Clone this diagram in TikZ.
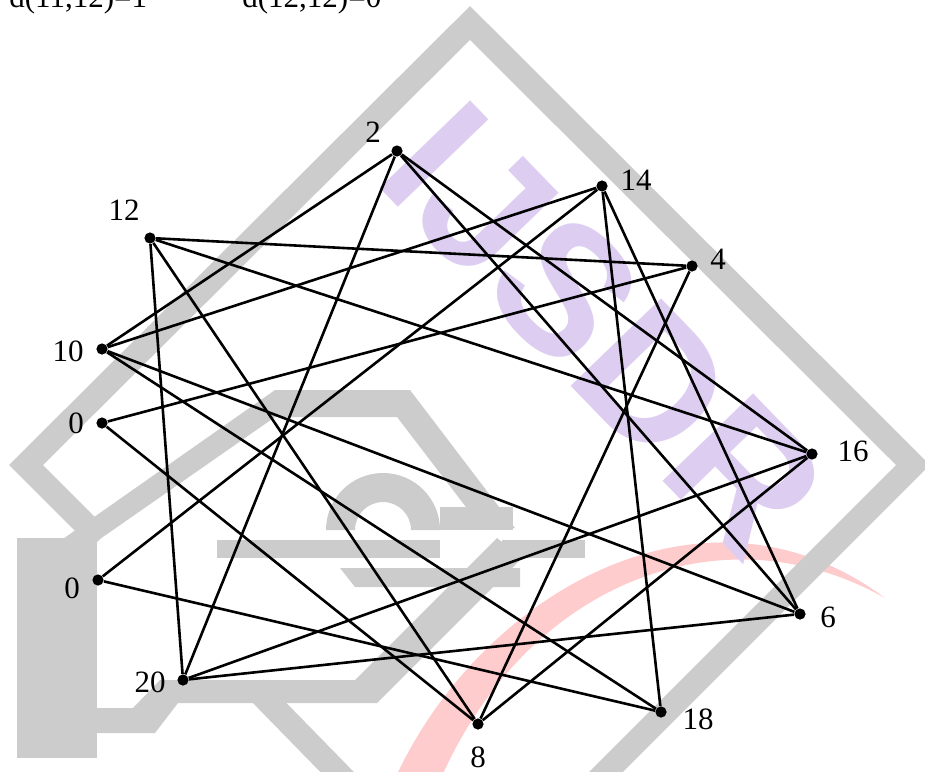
\documentclass[tikz,border=0pt]{standalone}
\usepackage{fontspec}
\setmainfont{Liberation Serif}
\newfontfamily\wmfont{Liberation Sans}
\definecolor{wmgray}{RGB}{204,204,204}
\definecolor{wmpink}{RGB}{255,204,206}
\definecolor{wmpurple}{RGB}{221,206,241}
\begin{document}
\begin{tikzpicture}[x=0.5pt,y=-0.5pt,
  dot/.style={circle,fill=black,inner sep=0pt,minimum size=5.6pt},
  lbl/.style={font=\fontsize{15.5}{18}\selectfont,inner sep=0pt},
  edge/.style={line width=1.3pt,black},
  wm/.style={fill=wmgray},
  band/.style={draw=wmgray,line width=12pt,line join=miter,miter limit=10}]
\useasboundingbox (0,0) rectangle (925,771);
\begin{scope}
\clip (0,0) rectangle (925,771);
% pink crescent
\fill[wmpink] (390,790) .. controls (470,600) and (700,460) .. (885,598)
  .. controls (720,505) and (520,585) .. (436,790) -- cycle;
% diamond band
\draw[band] (100,539) -- (26,465) -- (470,23) -- (913,465) -- (470,908) -- (255,688);
% left block and arm
\fill[wm] (17,538) rectangle (97,758);
\fill[wm] (97,708) -- (133,708) -- (160,680) -- (355,680) -- (497,538) -- (522,558)
  -- (377,703) -- (178,703) -- (155,733) -- (97,733) -- cycle;
% roof
\fill[wm] (60,541) -- (275,390) -- (410,390) -- (515,528) -- (482,528) -- (397,417)
  -- (275,417) -- (113,530) -- (97,541) -- cycle;
% arch and bars
\fill[wm] (326,530) arc[start angle=180,end angle=360,radius=57] -- (411,530)
  arc[start angle=360,end angle=180,radius=28] -- cycle;
\fill[wm] (440,507) rectangle (513,530);
\fill[wm] (217,540) rectangle (440,558);
\fill[wm] (502,540) rectangle (585,558);
\fill[wm] (340,568) -- (520,568) -- (520,587) -- (355,587) -- cycle;
% purple text
\node[text=wmpurple,font=\wmfont\bfseries\fontsize{91.5}{100}\selectfont,rotate=-46,inner sep=0pt] (wmtext) at (604,330) {IJSDR};
\end{scope}

% top texts
\node[font=\fontsize{15.5}{18}\selectfont,anchor=base west,inner sep=0pt] (t1) at (9,7) {d(11,12)=1};
\node[font=\fontsize{15.5}{18}\selectfont,anchor=base west,inner sep=0pt] (t2) at (242,7) {d(12,12)=0};

% vertices
\node[dot] (n2)  at (397,151) {};
\node[dot] (n14) at (602,186) {};
\node[dot] (n4)  at (692,266) {};
\node[dot] (n16) at (812,454) {};
\node[dot] (n6)  at (800,614) {};
\node[dot] (n18) at (661,712) {};
\node[dot] (n8)  at (478,724) {};
\node[dot] (n20) at (183,680) {};
\node[dot] (n0b) at (98,580) {};
\node[dot] (n0a) at (102,423) {};
\node[dot] (n10) at (102,349) {};
\node[dot] (n12) at (150,238) {};

% edges
\draw[edge] (n2) -- (n10);
\draw[edge] (n2) -- (n20);
\draw[edge] (n2) -- (n16);
\draw[edge] (n2) -- (n6);
\draw[edge] (n14) -- (n10);
\draw[edge] (n14) -- (n0b);
\draw[edge] (n14) -- (n18);
\draw[edge] (n14) -- (n6);
\draw[edge] (n12) -- (n4);
\draw[edge] (n12) -- (n16);
\draw[edge] (n12) -- (n20);
\draw[edge] (n12) -- (n8);
\draw[edge] (n4) -- (n0a);
\draw[edge] (n4) -- (n8);
\draw[edge] (n10) -- (n6);
\draw[edge] (n10) -- (n18);
\draw[edge] (n0a) -- (n8);
\draw[edge] (n0b) -- (n18);
\draw[edge] (n20) -- (n16);
\draw[edge] (n20) -- (n6);
\draw[edge] (n16) -- (n8);

% labels
\node[lbl] (l2)  at (373,132) {2};
\node[lbl] (l14) at (636,180) {14};
\node[lbl] (l4)  at (718,259) {4};
\node[lbl] (l16) at (853,451) {16};
\node[lbl] (l6)  at (828,617) {6};
\node[lbl] (l18) at (698,719) {18};
\node[lbl] (l8)  at (478,757) {8};
\node[lbl] (l20) at (150,682) {20};
\node[lbl] (l0b) at (72,588) {0};
\node[lbl] (l0a) at (76,423) {0};
\node[lbl] (l10) at (68,351) {10};
\node[lbl] (l12) at (124,210) {12};
\end{tikzpicture}
\end{document}
